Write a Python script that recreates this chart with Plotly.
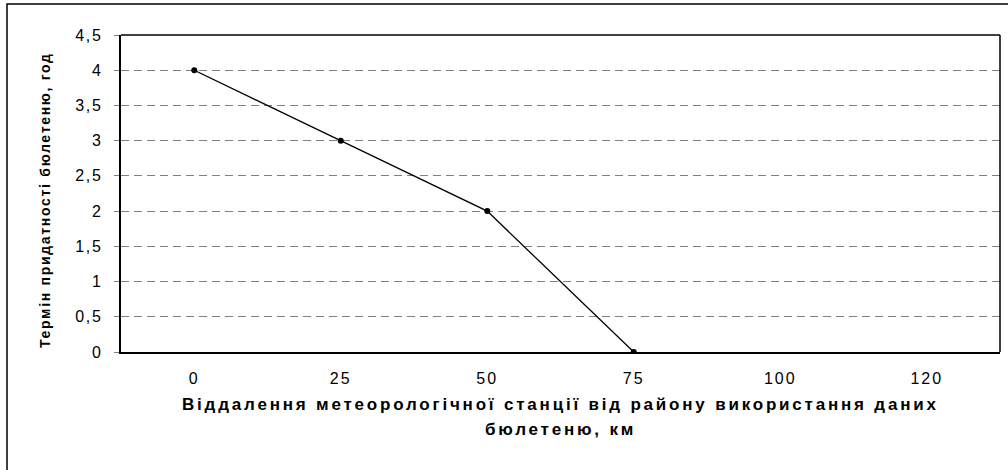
import plotly.graph_objects as go

categories = ["0", "25", "50", "75", "100", "120"]
term_values = [4, 3, 2, 0, None, None]
y_tick_vals = [0, 0.5, 1, 1.5, 2, 2.5, 3, 3.5, 4, 4.5]
y_tick_text = ["0", "0,5", "1", "1,5", "2", "2,5", "3", "3,5", "4", "4,5"]

x_title_lines = ["Віддалення метеорологічної станції від району використання даних",
                 "бюлетеню, км"]
y_title = "Термін придатності бюлетеню, год"

W, H = 1008, 470
L, R, T, B = 121, 8, 35, 118
pw, ph = W - L - R, H - T - B

font_family = "Liberation Sans, Arial, sans-serif"


def spaced(s, px):
    return "<span style='letter-spacing:%spx'>%s</span>" % (px, s)


fig = go.Figure()
fig.add_trace(go.Scatter(
    x=categories, y=term_values, mode="lines+markers",
    line=dict(color="black", width=1.3),
    marker=dict(color="black", size=6),
    connectgaps=False, showlegend=False, hoverinfo="skip",
))

fig.update_layout(
    width=W, height=H,
    margin=dict(l=L, r=R, t=T, b=B, pad=0),
    paper_bgcolor="white", plot_bgcolor="white",
    font=dict(family=font_family, color="black", size=16),
    xaxis=dict(
        type="category", range=[-0.5, 5.5],
        tickvals=categories, ticktext=[spaced(c, 2) for c in categories],
        showgrid=False, zeroline=False,
        showline=True, linecolor="black", linewidth=2,
        ticks="outside", ticklen=11, tickcolor="rgba(0,0,0,0)",
        tickfont=dict(size=16, family=font_family),
        fixedrange=True,
    ),
    yaxis=dict(
        range=[0, 4.5],
        tickvals=y_tick_vals, ticktext=[spaced(t, 1.8) for t in y_tick_text],
        showgrid=True, gridcolor="#808080", griddash="8px,5px", gridwidth=1,
        zeroline=False,
        showline=True, linecolor="black", linewidth=2,
        ticks="outside", ticklen=5, tickcolor="#808080", tickwidth=1,
        ticklabelstandoff=8,
        tickfont=dict(size=16, family=font_family),
        fixedrange=True,
    ),
    annotations=[
        dict(text="<b>" + spaced(y_title, 1.7) + "</b>", textangle=-90,
             xref="paper", yref="paper", x=(45 - L) / pw, y=(H - B - 200) / ph,
             xanchor="center", yanchor="middle", showarrow=False,
             font=dict(size=14, family=font_family)),
        dict(text="<b>" + spaced(x_title_lines[0], 2.8) + "</b>",
             xref="paper", yref="paper", x=0.5, y=(H - B - 404) / ph,
             xanchor="center", yanchor="middle", showarrow=False,
             font=dict(size=17, family=font_family)),
        dict(text="<b>" + spaced(x_title_lines[1], 2.8) + "</b>",
             xref="paper", yref="paper", x=0.5, y=(H - B - 429) / ph,
             xanchor="center", yanchor="middle", showarrow=False,
             font=dict(size=17, family=font_family)),
    ],
    shapes=[
        dict(type="line", xref="paper", yref="paper", x0=0, x1=1, y0=1, y1=1,
             line=dict(color="black", width=1.5)),
        dict(type="line", xref="paper", yref="paper", x0=1, x1=1, y0=0, y1=1,
             line=dict(color="black", width=1.5)),
        dict(type="rect", xref="paper", yref="paper",
             x0=(7 - L) / pw, x1=(W + 20 - L) / pw,
             y0=(H - B - (H + 20)) / ph, y1=(H - B - 4) / ph,
             line=dict(color="black", width=1.5), fillcolor="rgba(0,0,0,0)", layer="below"),
    ],
)

fig.write_html("out.html", config={"displayModeBar": False},
               post_script="document.body.style.margin='0';")
